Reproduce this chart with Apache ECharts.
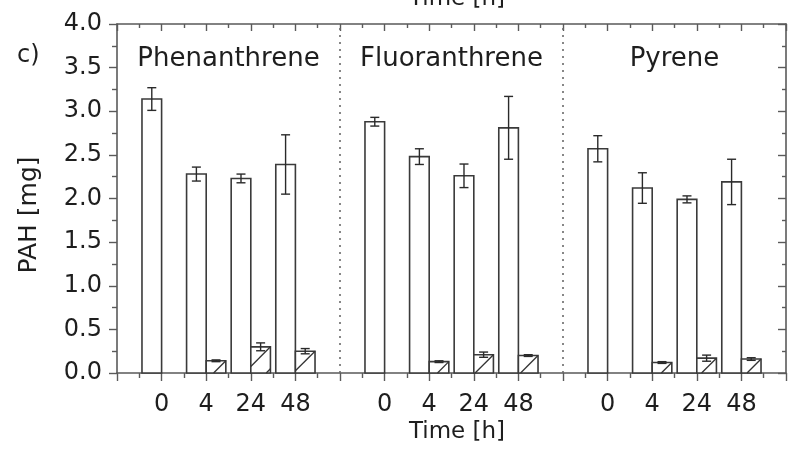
<!DOCTYPE html>
<html><head><meta charset="utf-8">
<script src="https://cdn.jsdelivr.net/npm/echarts@6/dist/echarts.min.js"></script>
<style>html,body{margin:0;padding:0;background:#fff}#c{width:789px;height:471px}</style>
</head><body><div id="c"></div>
<script>
// ---- data ----
const compounds = ['Phenanthrene', 'Fluoranthrene', 'Pyrene'];
const timeLabels = ['0', '4', '24', '48'];
const yTickDecimals = 1;
// open bars (mean, error)
const phenOpen = [3.14, 2.28, 2.23, 2.39];
const phenOpenErr = [0.13, 0.08, 0.05, 0.34];
const fluoOpen = [2.88, 2.48, 2.26, 2.81];
const fluoOpenErr = [0.05, 0.09, 0.135, 0.36];
const pyrOpen = [2.57, 2.12, 1.99, 2.19];
const pyrOpenErr = [0.15, 0.175, 0.04, 0.26];
// hatched bars (mean, error)
const phenHatch = [null, 0.14, 0.30, 0.25];
const phenHatchErr = [0, 0.01, 0.045, 0.03];
const fluoHatch = [null, 0.13, 0.21, 0.20];
const fluoHatchErr = [0, 0.01, 0.03, 0.01];
const pyrHatch = [null, 0.12, 0.17, 0.16];
const pyrHatchErr = [0, 0.01, 0.035, 0.015];

// ---- build ----
const FONT = 'DejaVu Sans';
const TXT = '#1e1e1e';
const AX = '#5a5a5a';
const GROUP_SPAN = timeLabels.length + 1;   // 4 bars + separator slot
const BAR_W = 0.44;                          // bar width in axis units

const openSets = [[phenOpen, phenOpenErr], [fluoOpen, fluoOpenErr], [pyrOpen, pyrOpenErr]];
const hatchSets = [[phenHatch, phenHatchErr], [fluoHatch, fluoHatchErr], [pyrHatch, pyrHatchErr]];
function build(sets) {
  const out = [];
  sets.forEach((s, g) => s[0].forEach((v, i) => {
    if (v != null) out.push([g * GROUP_SPAN + i + 1, v, s[1][i]]);
  }));
  return out;
}
const openData = build(openSets);
const hatchData = build(hatchSets);
const labelData = compounds.map((c, g) => [g * GROUP_SPAN + GROUP_SPAN / 2, c]);
const xMax = compounds.length * GROUP_SPAN;

function renderBar(hatched) {
  return function (params, api) {
    const x = api.value(0), v = api.value(1), e = api.value(2);
    const xl = hatched ? x : x - BAR_W;
    const xr = hatched ? x + BAR_W : x;
    const bl = api.coord([xl, 0]);
    const tr = api.coord([xr, v]);
    const w = tr[0] - bl[0], h = bl[1] - tr[1];
    const ch = [{
      type: 'rect', shape: { x: bl[0], y: tr[1], width: w, height: h },
      style: { fill: '#fff', stroke: '#3a3a3a', lineWidth: 1.6 }
    }];
    if (hatched) {
      const P = 22;
      for (let c = h - w; c > -w; c -= P) {
        const u0 = Math.max(0, -c), u1 = Math.min(w, h - c);
        if (u1 > u0) ch.push({
          type: 'line',
          shape: { x1: bl[0] + u0, y1: bl[1] - (u0 + c), x2: bl[0] + u1, y2: bl[1] - (u1 + c) },
          style: { stroke: '#333', lineWidth: 1.3 }
        });
      }
    }
    const xc = (bl[0] + tr[0]) / 2;
    const et = api.coord([x, v + e])[1], eb = api.coord([x, v - e])[1];
    const cap = 4.5;
    const es = { stroke: '#2a2a2a', lineWidth: 1.4 };
    ch.push({ type: 'line', shape: { x1: xc, y1: et, x2: xc, y2: eb }, style: es });
    ch.push({ type: 'line', shape: { x1: xc - cap, y1: et, x2: xc + cap, y2: et }, style: es });
    ch.push({ type: 'line', shape: { x1: xc - cap, y1: eb, x2: xc + cap, y2: eb }, style: es });
    return { type: 'group', children: ch };
  };
}

const axisLineStyle = { color: AX, width: 1.6 };
const tickStyle = { color: AX, width: 1.4 };

const option = {
  animation: false,
  backgroundColor: '#fff',
  grid: { left: 117, top: 24, width: 675, height: 349, containLabel: false },
  xAxis: [{
    type: 'value', min: 0, max: xMax, interval: 1, position: 'bottom',
    axisLine: { show: true, onZero: false, lineStyle: axisLineStyle },
    axisTick: { show: true, inside: false, length: 8, lineStyle: tickStyle },
    minorTick: { show: true, splitNumber: 2, length: 5, lineStyle: tickStyle },
    splitLine: { show: false }, minorSplitLine: { show: false },
    axisLabel: {
      show: true, margin: 20, fontSize: 24, fontFamily: FONT, color: TXT,
      showMinLabel: true, showMaxLabel: true,
      formatter: function (val) {
        const k = Math.round(val) % GROUP_SPAN;
        return k === 0 ? '' : timeLabels[k - 1];
      }
    }
  }, {
    type: 'value', min: 0, max: xMax, interval: 1, position: 'top',
    axisLine: { show: true, onZero: false, lineStyle: axisLineStyle },
    axisTick: { show: true, inside: true, length: 7, lineStyle: tickStyle },
    minorTick: { show: true, splitNumber: 2, length: 4, lineStyle: tickStyle },
    splitLine: { show: false }, axisLabel: { show: false }
  }],
  yAxis: [{
    type: 'value', min: 0, max: 4, interval: 0.5, position: 'left',
    axisLine: { show: true, onZero: false, lineStyle: axisLineStyle },
    axisTick: { show: true, inside: false, length: 8, lineStyle: tickStyle },
    minorTick: { show: true, splitNumber: 2, length: 5, lineStyle: tickStyle },
    splitLine: { show: false }, minorSplitLine: { show: false },
    axisLabel: {
      margin: 15, fontSize: 24, fontFamily: FONT, color: TXT,
      formatter: v => v.toFixed(yTickDecimals)
    }
  }, {
    type: 'value', min: 0, max: 4, interval: 0.5, position: 'right',
    axisLine: { show: true, onZero: false, lineStyle: axisLineStyle },
    axisTick: { show: true, inside: true, length: 8, lineStyle: tickStyle },
    minorTick: { show: true, splitNumber: 2, length: 4, lineStyle: tickStyle },
    splitLine: { show: false }, axisLabel: { show: false }
  }],
  graphic: [
    { type: 'text', x: 17, y: 56, style: { text: 'c)', fontSize: 24, fontFamily: FONT, fill: TXT, align: 'left', verticalAlign: 'middle' } },
    { type: 'text', x: 457, y: 11, style: { text: 'Time [h]', fontSize: 23, fontFamily: FONT, fill: TXT, align: 'center', verticalAlign: 'bottom' } },
    { type: 'text', x: 457, y: 432, style: { text: 'Time [h]', fontSize: 23, fontFamily: FONT, fill: TXT, align: 'center', verticalAlign: 'middle' } },
    { type: 'text', x: 29, y: 215, rotation: Math.PI / 2, style: { text: 'PAH [mg]', fontSize: 25, fontFamily: FONT, fill: TXT, align: 'center', verticalAlign: 'middle' } }
  ],
  series: [
    {
      type: 'custom', name: 'open', data: openData, renderItem: renderBar(false),
      encode: { x: 0, y: 1 }, clip: false, z: 3,
      markLine: {
        silent: true, symbol: 'none', label: { show: false },
        lineStyle: { type: [2, 5], color: '#6a6a6a', width: 1.6 },
        data: compounds.slice(1).map((c, g) => ({ xAxis: (g + 1) * GROUP_SPAN }))
      }
    },
    { type: 'custom', name: 'hatched', data: hatchData, renderItem: renderBar(true), encode: { x: 0, y: 1 }, clip: false, z: 3 },
    {
      type: 'custom', name: 'labels', data: labelData, encode: { x: 0 }, z: 4,
      renderItem: function (params, api) {
        const p = api.coord([api.value(0), 3.6]);
        return {
          type: 'text', x: p[0], y: p[1],
          style: { text: labelData[params.dataIndex][1], fontSize: 26, fontFamily: FONT, fill: TXT, align: 'center', verticalAlign: 'middle' }
        };
      }
    }
  ]
};
const chart = echarts.init(document.getElementById('c'), null, { renderer: 'canvas' });
chart.setOption(option);
</script>
</body></html>
